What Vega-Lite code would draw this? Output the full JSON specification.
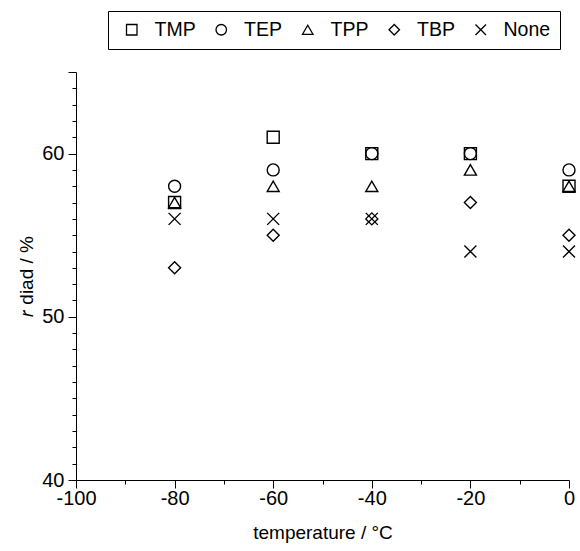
{
  "$schema": "https://vega.github.io/schema/vega-lite/v6.json",
  "autosize": "none",
  "width": 493,
  "height": 408,
  "padding": {"left": 76, "top": 72, "right": 11, "bottom": 71},
  "background": "white",
  "config": {
    "font": "Liberation Sans",
    "view": {"stroke": null},
    "axis": {"grid": false, "domainColor": "black", "tickColor": "black", "labelColor": "black", "titleColor": "black", "labelFont": "Liberation Sans", "titleFont": "Liberation Sans", "titleFontWeight": "normal", "domainWidth": 1, "tickWidth": 1}
  },
  "data": {
    "values": [
      {"temp": -80, "rdiad": 57, "series": "TMP"},
      {"temp": -60, "rdiad": 61, "series": "TMP"},
      {"temp": -40, "rdiad": 60, "series": "TMP"},
      {"temp": -20, "rdiad": 60, "series": "TMP"},
      {"temp": 0, "rdiad": 58, "series": "TMP"},
      {"temp": -80, "rdiad": 58, "series": "TEP"},
      {"temp": -60, "rdiad": 59, "series": "TEP"},
      {"temp": -40, "rdiad": 60, "series": "TEP"},
      {"temp": -20, "rdiad": 60, "series": "TEP"},
      {"temp": 0, "rdiad": 59, "series": "TEP"},
      {"temp": -80, "rdiad": 57, "series": "TPP"},
      {"temp": -60, "rdiad": 58, "series": "TPP"},
      {"temp": -40, "rdiad": 58, "series": "TPP"},
      {"temp": -20, "rdiad": 59, "series": "TPP"},
      {"temp": 0, "rdiad": 58, "series": "TPP"},
      {"temp": -80, "rdiad": 53, "series": "TBP"},
      {"temp": -60, "rdiad": 55, "series": "TBP"},
      {"temp": -40, "rdiad": 56, "series": "TBP"},
      {"temp": -20, "rdiad": 57, "series": "TBP"},
      {"temp": 0, "rdiad": 55, "series": "TBP"},
      {"temp": -80, "rdiad": 56, "series": "None"},
      {"temp": -60, "rdiad": 56, "series": "None"},
      {"temp": -40, "rdiad": 56, "series": "None"},
      {"temp": -20, "rdiad": 54, "series": "None"},
      {"temp": 0, "rdiad": 54, "series": "None"}
    ]
  },
  "resolve": {"axis": {"x": "independent", "y": "independent"}},
  "layer": [
    {
      "mark": {"type": "point", "opacity": 0},
      "encoding": {
        "x": {"field": "temp", "type": "quantitative", "scale": {"domain": [-100, 0], "nice": false, "zero": false},
          "axis": {"orient": "bottom", "values": [-90, -70, -50, -30, -10], "labels": false, "domain": false, "tickSize": 4, "title": null}},
        "y": {"field": "rdiad", "type": "quantitative", "scale": {"domain": [40, 65], "nice": false, "zero": false},
          "axis": {"orient": "left", "values": [41,42,43,44,45,46,47,48,49,51,52,53,54,55,56,57,58,59,61,62,63,64], "labels": false, "domain": false, "tickSize": 4, "title": null}}
      }
    },
    {
      "mark": {"type": "point", "filled": false, "strokeWidth": 1.4, "size": 144, "opacity": 1},
      "encoding": {
        "x": {"field": "temp", "type": "quantitative", "scale": {"domain": [-100, 0], "nice": false, "zero": false},
          "axis": {"orient": "bottom", "values": [-100, -80, -60, -40, -20, 0], "tickSize": 8, "labelFontSize": 20, "labelPadding": 0, "labelExpr": "'' + datum.value", "title": "temperature / °C", "titleFontSize": 19, "titlePadding": 15, "labelFlush": false}},
        "y": {"field": "rdiad", "type": "quantitative", "scale": {"domain": [40, 65], "nice": false, "zero": false},
          "axis": {"orient": "left", "values": [40, 50, 60, 65], "tickSize": 8, "labelFontSize": 20, "labelPadding": 4, "labelExpr": "datum.value == 65 ? '' : '' + datum.value", "title": "𝑟 diad / %", "titleFontSize": 19, "titlePadding": 5}},
        "shape": {"field": "series", "type": "nominal",
          "scale": {"domain": ["TMP", "TEP", "TPP", "TBP", "None"], "range": ["square", "circle", "triangle-up", "diamond", "M-1,-1L1,1M1,-1L-1,1"]},
          "legend": {"title": null, "orient": "none", "legendX": 32, "legendY": -61, "direction": "horizontal", "columns": 5, "gridAlign": "none", "strokeColor": "black", "padding": 9, "labelFontSize": 19.5, "labelColor": "black", "symbolSize": 110, "symbolStrokeColor": "black", "symbolStrokeWidth": 1.3, "symbolFillColor": "transparent", "symbolOffset": 5, "labelOffset": 13, "columnPadding": 10.5, "symbolType": "circle"}
        },
        "color": {"value": "black"}
      }
    }
  ]
}
